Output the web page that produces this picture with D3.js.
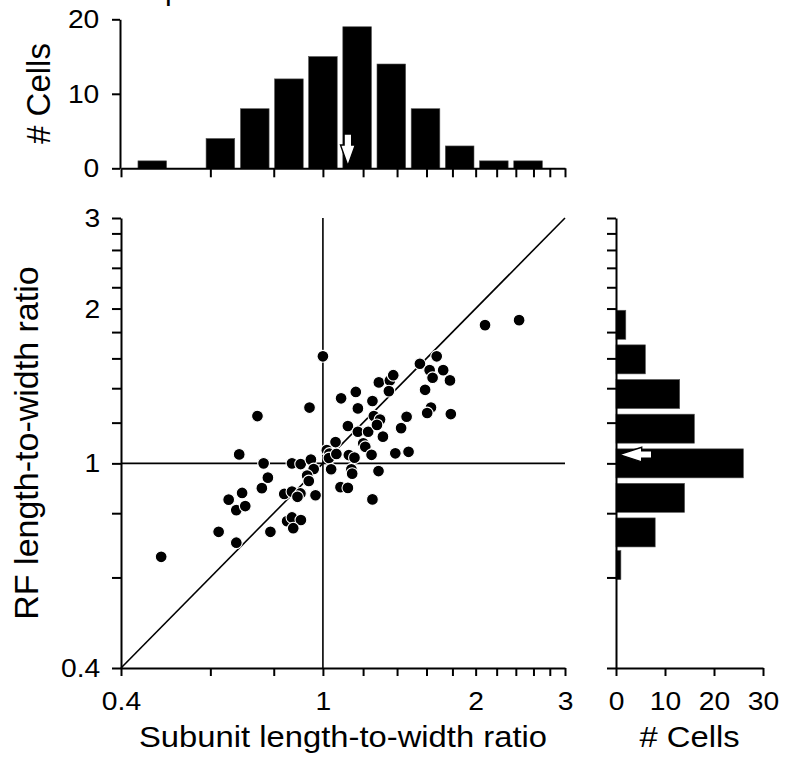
<!DOCTYPE html>
<html><head><meta charset="utf-8">
<script src="https://cdn.jsdelivr.net/npm/d3@7"></script>
<style>body{margin:0;background:#fff} svg{display:block}</style>
</head><body><svg id="c" width="785" height="763"></svg>
<script>
// ---------------- data ----------------
const subunitRatio = [0.480,0.623,0.675,0.652,0.675,0.703,0.693,0.684,0.743,0.764,0.779,0.758,0.788,0.839,0.869,0.903,0.891,0.967,0.850,0.869,0.905,0.874,0.869,0.904,0.947,0.959,0.931,0.938,0.941,1.000,1.018,1.030,1.028,1.063,1.059,1.038,1.083,1.120,1.086,1.161,1.172,1.252,1.120,1.172,1.228,1.201,1.212,1.125,1.154,1.138,1.142,1.247,1.252,1.287,1.260,1.296,1.278,1.313,1.289,1.355,1.376,1.349,1.389,1.475,1.426,1.462,1.553,1.676,1.623,1.726,1.645,1.780,1.590,1.633,1.605,1.787,2.087,2.436];
const rfRatio      = [0.658,0.736,0.701,0.850,0.811,0.826,0.876,1.041,1.236,1.000,0.938,0.895,0.736,0.872,0.881,0.874,0.861,0.867,0.772,0.785,0.776,0.748,1.000,0.997,1.017,0.975,0.947,0.924,1.284,1.615,1.061,1.045,1.024,1.043,1.100,0.974,0.899,0.896,1.338,1.377,1.279,1.322,1.182,1.152,1.152,1.094,1.077,1.038,1.026,0.974,0.955,1.039,0.851,0.966,1.236,1.217,1.188,1.127,1.437,1.449,1.484,1.382,1.046,1.053,1.171,1.232,1.562,1.615,1.518,1.518,1.467,1.450,1.390,1.284,1.253,1.247,1.857,1.899];

const ratioTicks = [0.4,0.6,0.8,1.0,1.2,1.4,1.6,1.8,2.0,2.2,2.4,2.6,2.8,3.0];
const ratioTickLabels = ["0.4","","","1","","","","","2","","","","","3"];

const topBinCenters = [0.461,0.538,0.628,0.734,0.857,1.000,1.168,1.364,1.593,1.860,2.172,2.537,2.962];
const topCounts     = [1,0,4,8,12,15,19,14,8,3,1,1,0];
const rightBinCenters = [0.634,0.734,0.857,1.000,1.168,1.364,1.593,1.860];
const rightCounts     = [1,8,14,26,16,13,6,2];

const topCountTicks = [0,10,20];
const rightCountTicks = [0,10,20,30];
const topArrowValue = 1.12;
const rightArrowValue = 1.04;

const xTitle = "Subunit length-to-width ratio";
const yTitle = "RF length-to-width ratio";
const countTitle = "# Cells";

// ---------------- layout ----------------
const FONT = "'Liberation Sans', Arial, Helvetica, sans-serif";
const svg = d3.select("#c");
const x = d3.scaleLog().domain([0.4,3]).range([121,565]);
const y = d3.scaleLog().domain([0.4,3]).range([668,218]);
const hy = d3.scaleLinear().domain([0,20]).range([168.3,19.3]);
const hx = d3.scaleLinear().domain([0,30]).range([616,763]);
const binHalf = Math.exp(0.065);
const SX = 1.13, TICKFS = 25;

function fmtRatio(d){ const i = ratioTicks.findIndex(v=>Math.abs(v-d)<1e-9); return i>=0 ? ratioTickLabels[i] : ""; }

function styleAxis(g, orient){
  g.select(".domain").attr("stroke","#000").attr("stroke-width",2);
  g.selectAll(".tick line").attr("stroke","#000").attr("stroke-width",2);
  g.selectAll(".tick text").attr("font-family",FONT).attr("font-size",TICKFS).attr("fill","#000");
  if(orient==="bottom"){
    g.selectAll(".tick text").attr("y",24.7).attr("dy","0.71em").attr("transform",`scale(${SX},1)`);
  } else {
    g.selectAll(".tick text").attr("x",-20.7/SX).attr("dy","0.34em").attr("transform",`scale(${SX},1)`);
  }
}

// ---- scatter reference lines ----
const scat = svg.append("g");
scat.append("line").attr("x1",x(1)).attr("x2",x(1)).attr("y1",y(3)).attr("y2",y(0.4)).attr("stroke","#000").attr("stroke-width",1.6);
scat.append("line").attr("x1",x(0.4)).attr("x2",x(3)).attr("y1",y(1)).attr("y2",y(1)).attr("stroke","#000").attr("stroke-width",1.6);
scat.append("line").attr("x1",x(0.4)).attr("x2",x(3)).attr("y1",y(0.4)).attr("y2",y(3)).attr("stroke","#000").attr("stroke-width",1.6);

// ---- scatter axes ----
const gx = svg.append("g").attr("transform",`translate(0,${y(0.4)})`)
  .call(d3.axisBottom(x).tickValues(ratioTicks).tickFormat(fmtRatio).tickSize(8).tickSizeOuter(0));
styleAxis(gx,"bottom");
const gy = svg.append("g").attr("transform",`translate(${x(0.4)},0)`)
  .call(d3.axisLeft(y).tickValues(ratioTicks).tickFormat(fmtRatio).tickSize(9).tickSizeOuter(0));
styleAxis(gy,"left");

// ---- scatter points ----
scat.selectAll("circle.pt").data(d3.zip(subunitRatio, rfRatio)).join("circle")
  .attr("class","pt").attr("cx",d=>x(d[0])).attr("cy",d=>y(d[1])).attr("r",5.9)
  .attr("fill","#000").attr("stroke","#fff").attr("stroke-width",1.1);

// ---- top histogram ----
const topHist = svg.append("g");
topHist.selectAll("rect").data(d3.zip(topBinCenters, topCounts).filter(d=>d[1]>0)).join("rect")
  .attr("x",d=>x(d[0]/binHalf)).attr("width",d=>Math.min(x(3),x(d[0]*binHalf))-x(d[0]/binHalf))
  .attr("y",d=>hy(d[1])).attr("height",d=>hy(0)-hy(d[1]))
  .attr("fill","#000").attr("stroke","#555").attr("stroke-width",0.6);
const tx = svg.append("g").attr("transform",`translate(0,${hy(0)})`)
  .call(d3.axisBottom(x).tickValues(ratioTicks).tickFormat("").tickSize(9).tickSizeOuter(0));
styleAxis(tx,"bottom");
const ty = svg.append("g").attr("transform",`translate(120,0)`)
  .call(d3.axisLeft(hy).tickValues(topCountTicks).tickSize(8).tickSizeOuter(0));
styleAxis(ty,"left");

// top arrow (pointing down)
{
  const ax = x(topArrowValue), tip = hy(0)-2.6, len = 31.7, head = 20.7, hw = 7.4, sw = 3.8;
  const pts = [[ax-sw,tip-len],[ax+sw,tip-len],[ax+sw,tip-head],[ax+hw,tip-head],[ax,tip],[ax-hw,tip-head],[ax-sw,tip-head]];
  svg.append("path").attr("d","M"+pts.map(p=>p.join(",")).join("L")+"Z")
    .attr("fill","#fff").attr("stroke","#000").attr("stroke-width",1.4).attr("stroke-linejoin","miter");
}

// ---- right histogram ----
const rightHist = svg.append("g");
rightHist.selectAll("rect").data(d3.zip(rightBinCenters, rightCounts)).join("rect")
  .attr("y",d=>y(d[0]*binHalf)).attr("height",d=>y(d[0]/binHalf)-y(d[0]*binHalf))
  .attr("x",hx(0)).attr("width",d=>hx(d[1])-hx(0))
  .attr("fill","#000").attr("stroke","#555").attr("stroke-width",0.6);
const rx = svg.append("g").attr("transform",`translate(0,${y(0.4)})`)
  .call(d3.axisBottom(hx).tickValues(rightCountTicks).tickSize(8).tickSizeOuter(0));
styleAxis(rx,"bottom");
const ry = svg.append("g").attr("transform",`translate(${hx(0)},0)`)
  .call(d3.axisLeft(y).tickValues(ratioTicks).tickFormat("").tickSize(9).tickSizeOuter(0));
styleAxis(ry,"left");

// right arrow (pointing left)
{
  const ay = y(rightArrowValue), tip = hx(0)+3.3, len = 32.4, head = 22.4, hh = 7.3, sh = 3.7;
  const pts = [[tip+len,ay-sh],[tip+len,ay+sh],[tip+head,ay+sh],[tip+head,ay+hh],[tip,ay],[tip+head,ay-hh],[tip+head,ay-sh]];
  svg.append("path").attr("d","M"+pts.map(p=>p.join(",")).join("L")+"Z")
    .attr("fill","#fff").attr("stroke","#000").attr("stroke-width",1.4);
}

// ---- titles ----
function title(txt, tx_, ty_, rot, fs, sx){
  svg.append("text").text(txt)
    .attr("transform",`translate(${tx_},${ty_}) rotate(${rot}) scale(${sx},1)`)
    .attr("text-anchor","middle").attr("font-family",FONT).attr("font-size",fs).attr("fill","#000");
}
title(xTitle, (x(0.4)+x(3))/2, 747, 0, 29, SX);
title(countTitle, (hx(0)+hx(30))/2, 747, 0, 29, SX);
title(countTitle, 49.5, 93.5, -90, 33, 1);
title(yTitle, 38, (y(0.4)+y(3))/2, -90, 34, 1);
// cropped panel title fragment at top edge (as in the reference)
svg.append("text").text("p").attr("x",165).attr("y",-0.5).attr("font-family",FONT).attr("font-size",30).attr("fill","#000");
</script>
</body></html>
